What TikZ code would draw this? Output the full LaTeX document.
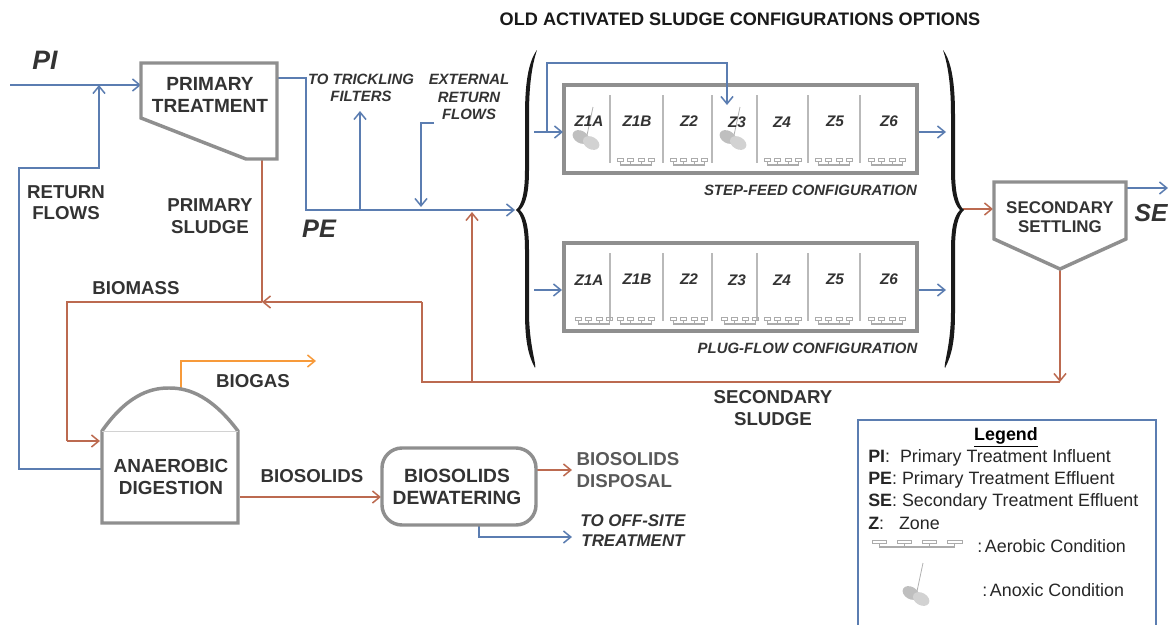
\documentclass[tikz,border=0pt]{standalone}
\usepackage{fontspec}
\setmainfont{Liberation Sans}
\usetikzlibrary{arrows.meta}
\definecolor{bl}{HTML}{5B7DB1}
\definecolor{br}{HTML}{BC6A50}
\definecolor{og}{HTML}{F79A3A}
\definecolor{gy}{HTML}{8F8F8F}
\definecolor{tx}{HTML}{333333}
\tikzset{
 x=0.75pt,y=-0.75pt,
 flow/.style={line width=1.35pt,-{Straight Barb[length=5.5pt,width=9pt,line width=1.15pt]},line join=miter},
 plain/.style={line width=1.35pt},
 blueflow/.style={flow,draw=bl},
 brownflow/.style={flow,draw=br},
 unit/.style={draw=gy,line width=2.6pt,fill=white,line join=miter},
 lab/.style={font=\bfseries\fontsize{14}{16}\selectfont,text=tx,align=center,inner sep=0pt},
 ital/.style={font=\bfseries\itshape\fontsize{11.2}{13}\selectfont,text=tx,align=center,inner sep=0pt},
 zone/.style={font=\bfseries\itshape\fontsize{11.5}{13}\selectfont,text=tx,inner sep=0pt},
 big/.style={font=\bfseries\itshape\fontsize{19}{22}\selectfont,text=tx,inner sep=0pt},
 leg/.style={font=\fontsize{13.4}{15}\selectfont,text=black!85,anchor=west,inner sep=0pt},
}
\newcommand{\aerobicmark}[2][1]{\begin{scope}[shift={(#2)},x=0.75pt,y=-0.75pt,xscale=#1,draw=gy!75,line width=0.7pt]
 \foreach \d in {0,10.5,21,31.5}{\draw (\d,0) rectangle (\d+6,3); \draw (\d+3,3) -- (\d+3,7);}
 \draw[line width=1.3pt] (3,7) -- (34.5,7);
\end{scope}}
\newcommand{\anoxicmark}[1]{\begin{scope}[shift={(#1)},x=0.75pt,y=-0.75pt]
 \draw[gy!70,line width=0.6pt] (7,-33) -- (0,0);
 \fill[gray!50,rotate=-30] (-6,0) ellipse (6.6pt and 4.6pt);
 \fill[gray!35,rotate=-30] (6,0) ellipse (6.6pt and 4.6pt);
\end{scope}}
\begin{document}
\begin{tikzpicture}
\useasboundingbox (0,0) rectangle (1168,625);
\coordinate (piin) at (10,85);
\coordinate (ptin) at (141,85);
\coordinate (adL) at (102,469);
\coordinate (ptout) at (277,78);
\coordinate (peA) at (306,210);
\coordinate (peB) at (515,210);
\coordinate (tfJ) at (360,210);
\coordinate (tfE) at (360,111);
\coordinate (erS) at (434,123);
\coordinate (erE) at (421,207);
\coordinate (sfS) at (534,132);
\coordinate (sfE) at (563,132);
\coordinate (sfB) at (547,132);
\coordinate (sfC) at (727,105);
\coordinate (pfS) at (534,290);
\coordinate (pfE) at (562,290);
\coordinate (o1S) at (917,132);
\coordinate (o1E) at (946,132);
\coordinate (o2S) at (917,290);
\coordinate (o2E) at (946,290);
\coordinate (bR) at (963,209);
\coordinate (seIn) at (993,209);
\coordinate (seOutS) at (1126,188);
\coordinate (seOutE) at (1168,188);
\coordinate (psS) at (262,159);
\coordinate (psE) at (262,302);
\coordinate (biomR) at (422,302);
\coordinate (biomL) at (67,302);
\coordinate (adIn) at (100,441);
\coordinate (ss) at (1060,269);
\coordinate (ssE) at (1060,382);
\coordinate (ssJ) at (472,382);
\coordinate (ssT) at (472,212);
\coordinate (gasS) at (181,389);
\coordinate (gasE) at (316,361);
\coordinate (bsS) at (240,497);
\coordinate (bsE) at (381,497);
\coordinate (bdS) at (536,470);
\coordinate (bdE) at (572,470);
\coordinate (offS) at (479,525);
\coordinate (offE) at (572,537);

% connectors
\draw[blueflow] (piin) -- (ptin);
\draw[blueflow] (adL) -- (19,469) -- (19,168) -- (99,168) -- (99,85);
\draw[blueflow] (ptout) -- (306,78) -- (peA) -- (peB);
\draw[blueflow] (tfJ) -- (tfE);
\draw[blueflow] (erS) -- (421,123) -- (erE);
\draw[blueflow] (pfS) -- (pfE);
\draw[blueflow] (o1S) -- (o1E);
\draw[blueflow] (o2S) -- (o2E);
\draw[brownflow] (bR) -- (seIn);
\draw[blueflow] (seOutS) -- (seOutE);
\draw[plain,draw=br] (psS) -- (psE);
\draw[brownflow] (biomR) -- (262,302);
\draw[brownflow] (ssJ) -- (ssT);
\draw[plain,draw=br] (262,302) -- (biomL) -- (67,441);
\draw[brownflow] (67,441) -- (adIn);
\draw[brownflow] (ss) -- (ssE);
\draw[plain,draw=br] (ssE) -- (422,382) -- (biomR);
\draw[flow,draw=og] (gasS) -- (181,361) -- (gasE);
\draw[brownflow] (bsS) -- (bsE);
\draw[brownflow] (bdS) -- (bdE);
\draw[blueflow] (offS) |- (offE);

% units
\draw[unit] (141,63) -- (277,63) -- (277,159) -- (246,159) -- (141,118) -- cycle;
\node[lab,font=\bfseries\fontsize{14.3}{16}\selectfont] (pt) at (210,95) {PRIMARY\\TREATMENT};
\draw[unit] (994,182) -- (1126,182) -- (1126,239) -- (1060,269) -- (994,239) -- cycle;
\node[lab,font=\bfseries\fontsize{12.7}{14.5}\selectfont] (sst) at (1060,217) {SECONDARY\\SETTLING};
\draw[unit] (102,431) .. controls (130,391) and (155,388) .. (169,388) .. controls (183,388) and (208,391) .. (238,431) -- (238,523) -- (102,523) -- cycle;
\draw[gray!35,line width=0.6pt] (102,431) -- (238,431);
\node[lab,font=\bfseries\fontsize{14.2}{16}\selectfont] (ad) at (171,477) {ANAEROBIC\\DIGESTION};
\draw[unit,rounded corners=15pt] (382,448) rectangle (536,525);
\node[lab,font=\bfseries\fontsize{14.4}{16}\selectfont] (dw) at (457,487) {BIOSOLIDS\\DEWATERING};

% zone boxes
\foreach \y in {85,243}{
 \draw[draw=gy,line width=2.6pt,fill=white] (564,\y) rectangle (917,\y+88);
 \foreach \x in {610,663,712,757,808,860}{\draw[gray!55,line width=0.8pt] (\x,\y+10) -- (\x,\y+78);}
}
\draw[blueflow] (sfS) -- (sfE);
\draw[blueflow] (sfB) -- (547,63) -- (727,63) -- (sfC);
\foreach \x in {617,670,764,815,868}{\aerobicmark{\x,158}}
\foreach \x in {575,617,670,721,764,815,868}{\aerobicmark{\x,317}}
\anoxicmark{586,140}
\anoxicmark{733,140}
\node[zone] (z1) at (589,121) {Z1A};
\node[zone] (z2) at (637,121) {Z1B};
\node[zone] (z3) at (689,121) {Z2};
\node[zone] (z4) at (737,122) {Z3};
\node[zone] (z5) at (782,122) {Z4};
\node[zone] (z6) at (835,121) {Z5};
\node[zone] (z7) at (889,121) {Z6};
\node[zone] (y1) at (589,280) {Z1A};
\node[zone] (y2) at (637,279) {Z1B};
\node[zone] (y3) at (689,279) {Z2};
\node[zone] (y4) at (737,280) {Z3};
\node[zone] (y5) at (782,280) {Z4};
\node[zone] (y6) at (835,279) {Z5};
\node[zone] (y7) at (889,279) {Z6};

% braces
\fill[black!90] (537,50) .. controls (528,62) and (525,85) .. (525,115) -- (525,170) .. controls (525,192) and (522,205) .. (516,210) .. controls (522,215) and (525,228) .. (525,250) -- (525,312) .. controls (525,340) and (528,355) .. (535,368) .. controls (537,366) and (529,345) .. (529,312) -- (529,250) .. controls (529,228) and (526,216) .. (520,210) .. controls (526,204) and (529,192) .. (529,170) -- (529,115) .. controls (529,85) and (532,65) .. (537,50) -- cycle;
\fill[black!90] (943,50) .. controls (952,62) and (955,85) .. (955,115) -- (955,170) .. controls (955,192) and (958,205) .. (964,210) .. controls (958,215) and (955,228) .. (955,250) -- (955,312) .. controls (955,340) and (952,355) .. (945,368) .. controls (943,366) and (951,345) .. (951,312) -- (951,250) .. controls (951,228) and (954,216) .. (960,210) .. controls (954,204) and (951,192) .. (951,170) -- (951,115) .. controls (951,85) and (948,65) .. (943,50) -- cycle;

% labels
\node[lab,font=\bfseries\fontsize{13.6}{15}\selectfont,text=black!90] (title) at (740,19) {OLD ACTIVATED SLUDGE CONFIGURATIONS OPTIONS};
\node[big,font=\bfseries\itshape\fontsize{20}{22}\selectfont] (pi) at (45,60) {PI};
\node[big] (pe) at (319,229) {PE};
\node[big,font=\bfseries\itshape\fontsize{18.5}{22}\selectfont] (se) at (1151,213) {SE};
\node[lab] (rf) at (66,203) {RETURN\\FLOWS};
\node[lab] (ps) at (210,216) {PRIMARY\\SLUDGE};
\node[lab] (bm) at (136,288) {BIOMASS};
\node[lab] (bg) at (253,381) {BIOGAS};
\node[lab] (bsl) at (312,476) {BIOSOLIDS};
\node[lab,align=left,text=black!65] (bdp) at (628,470) {BIOSOLIDS\\DISPOSAL};
\node[ital,font=\bfseries\itshape\fontsize{12.7}{15}\selectfont] (off) at (633,531) {TO OFF-SITE\\TREATMENT};
\node[lab] (sl) at (773,408) {SECONDARY\\SLUDGE};
\node[ital] (tf) at (361,88) {TO TRICKLING\\FILTERS};
\node[ital] (er) at (469,97) {EXTERNAL\\RETURN\\FLOWS};
\node[ital] (sf) at (810.5,190) {STEP-FEED CONFIGURATION};
\node[ital] (pf) at (807.5,348) {PLUG-FLOW CONFIGURATION};

% legend
\draw[draw=bl,line width=0.9pt] (858,625) -- (858,420) -- (1156,420) -- (1156,625);
\node[lab,font=\bfseries\fontsize{13.4}{15}\selectfont,text=black] (lg) at (1006,437) {\underline{Legend}};
\node[leg] (l1) at (868,458) {\textbf{PI}:\ \ Primary Treatment Influent};
\node[leg] (l2) at (868,480) {\textbf{PE}: Primary Treatment Effluent};
\node[leg] (l3) at (868,502) {\textbf{SE}: Secondary Treatment Effluent};
\node[leg] (l4) at (868,523) {\textbf{Z}:\ \ \ Zone};
\aerobicmark[2.4]{872,540}
\node[leg] (l5) at (977,546) {:\hspace{0.15em}Aerobic Condition};
\anoxicmark{916,596}
\node[leg] (l6) at (982,590) {:\hspace{0.15em}Anoxic Condition};
\end{tikzpicture}
\end{document}
